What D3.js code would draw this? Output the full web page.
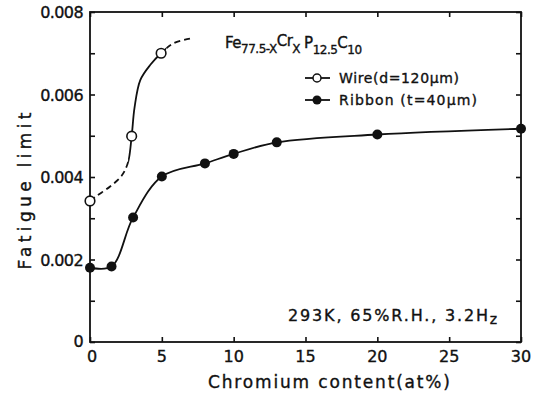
<!DOCTYPE html>
<html>
<head>
<meta charset="utf-8">
<script src="https://cdn.jsdelivr.net/npm/d3@7"></script>
<style>
  html, body { margin: 0; padding: 0; background: #fff; }
  svg { display: block; }
  text { font-family: "DejaVu Sans", sans-serif; fill: #111; stroke: #111; stroke-width: 0.35px; }
</style>
</head>
<body>
<svg id="chart" width="536" height="396"></svg>
<script>
// Fatigue limit vs. chromium content of Fe(77.5-x)Cr(x)P(12.5)C(10) glasses

// Measured points
const ribbonCr    = [0, 1.5, 3, 5, 8, 10, 13, 20, 30];
const ribbonLimit = [0.0018, 0.00183, 0.00302, 0.00401, 0.00433, 0.00456, 0.00484, 0.00503, 0.00517];
const wireCr      = [0, 2.9, 4.95];
const wireLimit   = [0.00342, 0.00499, 0.0070];

// Hand-drawn trend line for the wire (knots along the curve)
const wireCurveCr    = [0, 0.5, 1.4, 2.2, 2.65, 2.9, 3.1, 3.5, 4.2, 4.95, 5.8, 7.0];
const wireCurveLimit = [0.00342, 0.00355, 0.00377, 0.00403, 0.00436, 0.00499, 0.00568, 0.00635, 0.00672, 0.0070, 0.00724, 0.00736];

// Axis ticks
const xTicks = [0, 5, 10, 15, 20, 25, 30];
const yTicks = [0, 0.001, 0.002, 0.003, 0.004, 0.005, 0.006, 0.007, 0.008];
const yTickLabels = ["0", "", "0.002", "", "0.004", "", "0.006", "", "0.008"];

const svg = d3.select("#chart");
const plotL = 90, plotR = 521, plotT = 12, plotB = 342;

const x = d3.scaleLinear().domain([0, 30]).range([plotL, plotR]);
const y = d3.scaleLinear().domain([0, 0.008]).range([plotB, plotT]);

const ink = "#111";

// Frame
svg.append("rect")
  .attr("x", plotL).attr("y", plotT)
  .attr("width", plotR - plotL).attr("height", plotB - plotT)
  .attr("fill", "none").attr("stroke", ink).attr("stroke-width", 1.8);

// Inward ticks on all four sides
const tickLen = 5;
const axB = d3.axisBottom(x).tickValues(xTicks).tickSize(-tickLen).tickFormat("");
const axT = d3.axisTop(x).tickValues(xTicks).tickSize(-tickLen).tickFormat("");
const axL = d3.axisLeft(y).tickValues(yTicks).tickSize(-tickLen).tickFormat("");
const axR = d3.axisRight(y).tickValues(yTicks).tickSize(-tickLen).tickFormat("");
[[axB, `translate(0,${plotB})`], [axT, `translate(0,${plotT})`],
 [axL, `translate(${plotL},0)`], [axR, `translate(${plotR},0)`]].forEach(([ax, tr]) => {
  const g = svg.append("g").attr("transform", tr).call(ax);
  g.select(".domain").remove();
  g.selectAll(".tick line").attr("stroke", ink).attr("stroke-width", 1.6);
});

// Tick labels
svg.append("g").selectAll("text").data(xTicks).join("text")
  .attr("x", d => x(d) + (d === 0 ? 2 : 0))
  .attr("y", 362)
  .attr("text-anchor", "middle")
  .attr("font-size", 16)
  .text(d => d);

svg.append("g").selectAll("text").data(yTicks.map((v, i) => [v, yTickLabels[i]]).filter(d => d[1]))
  .join("text")
  .attr("x", 83)
  .attr("y", d => y(d[0]) + (d[0] === 0 ? 5 : 6))
  .attr("text-anchor", "end")
  .attr("font-size", 16)
  .attr("letter-spacing", -0.6)
  .text(d => d[1]);

// Axis titles
svg.append("text")
  .attr("transform", "translate(31,191) rotate(-90)")
  .attr("text-anchor", "middle")
  .attr("font-size", 17)
  .attr("textLength", 157).attr("lengthAdjust", "spacing")
  .text("Fatigue limit");

svg.append("text")
  .attr("x", 329).attr("y", 388)
  .attr("text-anchor", "middle")
  .attr("font-size", 17)
  .attr("textLength", 242).attr("lengthAdjust", "spacing")
  .text("Chromium content(at%)");

// Curves
const line = d3.line().x(d => x(d[0])).y(d => y(d[1])).curve(d3.curveCatmullRom.alpha(0.5));

svg.append("path")
  .datum(ribbonCr.map((c, i) => [c, ribbonLimit[i]]))
  .attr("d", line)
  .attr("fill", "none").attr("stroke", ink).attr("stroke-width", 1.8);

// Wire trend: dashed where extrapolated, solid between measured points
const defs = svg.append("defs");
const clips = [
  ["clipA", 0, 2.65, "6,4"],
  ["clipB", 2.65, 5.3, null],
  ["clipC", 5.3, 30, "6,4"]
];
const wirePts = wireCurveCr.map((c, i) => [c, wireCurveLimit[i]]);
clips.forEach(([id, a, b, dash]) => {
  defs.append("clipPath").attr("id", id).append("rect")
    .attr("x", x(a)).attr("y", 0).attr("width", x(b) - x(a)).attr("height", 396);
  svg.append("path")
    .datum(wirePts)
    .attr("d", line)
    .attr("clip-path", `url(#${id})`)
    .attr("fill", "none").attr("stroke", ink).attr("stroke-width", 1.8)
    .attr("stroke-dasharray", dash);
});

// Markers
svg.append("g").selectAll("circle").data(ribbonCr.map((c, i) => [c, ribbonLimit[i]])).join("circle")
  .attr("cx", d => x(d[0])).attr("cy", d => y(d[1])).attr("r", 5)
  .attr("fill", ink);

svg.append("g").selectAll("circle").data(wireCr.map((c, i) => [c, wireLimit[i]])).join("circle")
  .attr("cx", d => x(d[0])).attr("cy", d => y(d[1])).attr("r", 4.8)
  .attr("fill", "#fff").attr("stroke", ink).attr("stroke-width", 1.6);

// Composition label
const comp = svg.append("text").attr("x", 225).attr("y", 48).attr("font-size", 15).attr("letter-spacing", -0.5);
comp.append("tspan").text("Fe");
comp.append("tspan").attr("font-size", 12).attr("dy", 5).text("77.5-X");
comp.append("tspan").attr("dy", -7).text("Cr");
comp.append("tspan").attr("font-size", 12).attr("dy", 7).text("X");
comp.append("tspan").attr("dy", -5).attr("dx", 4).text("P");
comp.append("tspan").attr("font-size", 12).attr("dy", 6).text("12.5");
comp.append("tspan").attr("dy", -6).text("C");
comp.append("tspan").attr("font-size", 12).attr("dy", 6).text("10");

// Legend
const legend = [
  { label: "Wire(d=120μm)", open: true, y: 78, w: 120 },
  { label: "Ribbon (t=40μm)", open: false, y: 100, w: 138 }
];
const lg = svg.append("g").selectAll("g").data(legend).join("g");
lg.append("line")
  .attr("x1", 305).attr("x2", 330).attr("y1", d => d.y).attr("y2", d => d.y)
  .attr("stroke", ink).attr("stroke-width", 1.8);
lg.append("circle")
  .attr("cx", 317).attr("cy", d => d.y).attr("r", d => d.open ? 4 : 4.5)
  .attr("fill", d => d.open ? "#fff" : ink)
  .attr("stroke", ink).attr("stroke-width", d => d.open ? 1.5 : 0);
lg.append("text")
  .attr("x", 339).attr("y", d => d.y + 5)
  .attr("font-size", 14)
  .attr("textLength", d => d.w).attr("lengthAdjust", "spacing")
  .text(d => d.label);

// Test conditions
const cond = svg.append("text").attr("x", 288).attr("y", 321).attr("font-size", 16);
cond.append("tspan").attr("textLength", 200).attr("lengthAdjust", "spacing").text("293K, 65%R.H., 3.2H");
cond.append("tspan").attr("font-size", 14).attr("dy", 3).text("z");
</script>
</body>
</html>
